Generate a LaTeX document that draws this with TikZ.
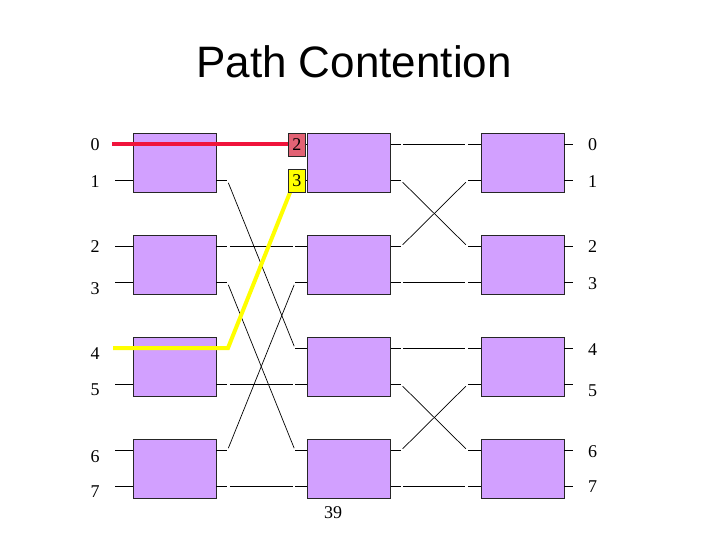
\documentclass[tikz,border=0pt]{standalone}
\usepackage{fontspec}
\setmainfont{Liberation Serif}
\newfontfamily\titlefont{Liberation Sans}
\usetikzlibrary{calc}
\definecolor{boxviolet}{RGB}{210,160,255}
\definecolor{pathred}{RGB}{240,20,60}
\definecolor{tagred}{RGB}{226,98,116}
\definecolor{pathyellow}{RGB}{255,255,0}
\begin{document}
\begin{tikzpicture}[x=1pt,y=-1pt,
  swbox/.style={draw=black!85,line width=0.8pt,fill=boxviolet,minimum width=83pt,minimum height=59pt,inner sep=0pt},
  stub/.style={line width=0.7pt},
  wire/.style={line width=0.7pt,shorten <=2.5pt,shorten >=2.5pt},
  lbl/.style={font=\fontsize{18}{20}\selectfont,inner sep=0pt},
  tag/.style={draw=black!85,line width=0.8pt,minimum width=17pt,minimum height=23pt,inner sep=0pt,font=\fontsize{18}{20}\selectfont},
  hl/.style={line width=4pt}]
\fill[white] (0,0) rectangle (720,540);
\useasboundingbox (0,0) rectangle (720,540);

% title
\node[font=\titlefont\fontsize{44}{50}\selectfont,inner sep=0pt] (title) at (354,62) {Path Contention};

% switch boxes
\foreach \c/\x in {1/174.5,2/349,3/522.5}{
  \foreach \r in {0,1,2,3}{
    \node[swbox] (b\c\r) at (\x,{162.5+102*\r}) {};
  }
}

% port coordinates and stubs
\foreach \c/\ll/\rl in {1/18/11,2/12/10,3/13/9}{
  \foreach \r in {0,1,2,3}{
    \pgfmathtruncatemacro{\t}{2*\r}
    \pgfmathtruncatemacro{\b}{2*\r+1}
    \coordinate (LE\c-\t) at ($(b\c\r.west)+(0,-18)$);
    \coordinate (LE\c-\b) at ($(b\c\r.west)+(0,18)$);
    \coordinate (RE\c-\t) at ($(b\c\r.east)+(0,-18)$);
    \coordinate (RE\c-\b) at ($(b\c\r.east)+(0,18)$);
    \coordinate (L\c-\t) at ($(b\c\r.west)+(-\ll,-18)$);
    \coordinate (L\c-\b) at ($(b\c\r.west)+(-\ll,18)$);
    \coordinate (R\c-\t) at ($(b\c\r.east)+(\rl,-18)$);
    \coordinate (R\c-\b) at ($(b\c\r.east)+(\rl,18)$);
    \draw[stub] (LE\c-\t) -- (L\c-\t);
    \draw[stub] (LE\c-\b) -- (L\c-\b);
    \draw[stub] (RE\c-\t) -- (R\c-\t);
    \draw[stub] (RE\c-\b) -- (R\c-\b);
  }
}

% stage 1 wiring
\foreach \a/\d in {0/0,1/4,2/2,3/6,4/1,5/5,6/3,7/7}
  \draw[wire] (R1-\a) -- (L2-\d);
% stage 2 wiring
\foreach \a/\d in {0/0,1/2,2/1,3/3,4/4,5/6,6/5,7/7}
  \draw[wire] (R2-\a) -- (L3-\d);

% labels
\foreach \n/\y in {0/145,1/181.5,2/247,3/288.5,4/353.5,5/390,6/456.5,7/492}
  \node[lbl] (inl\n) at (95,\y) {\n};
\foreach \n/\y in {0/144.5,1/181.5,2/246.5,3/283.5,4/349.5,5/390.5,6/451.5,7/487}
  \node[lbl] (outl\n) at (592.5,\y) {\n};

% highlighted paths
\coordinate (rstart) at (112,144);
\coordinate (rend) at (289,144);
\draw[hl,pathred] (rstart) -- (rend);
\coordinate (ystart) at (113,348);
\coordinate (ybend) at (228,348);
\coordinate (yend) at (291,190);
\draw[hl,pathyellow] (ystart) -- (ybend) -- (yend);
\node[tag,fill=tagred] (t2) at (296.8,144.5) {2};
\node[tag,fill=pathyellow] (t3) at (296.8,181) {3};

% page number
\node[lbl] (pg) at (333,513) {39};
\end{tikzpicture}
\end{document}
